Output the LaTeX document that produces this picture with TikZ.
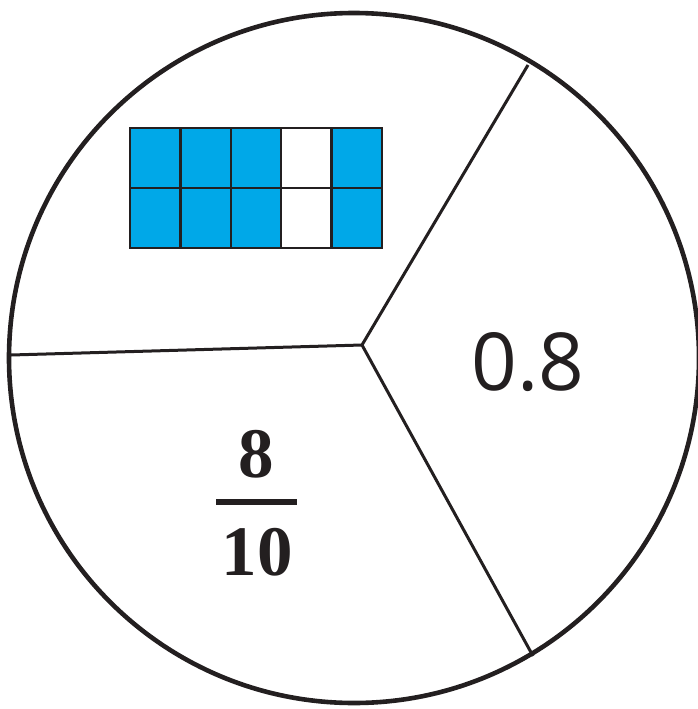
\documentclass[tikz,border=0pt]{standalone}
\usepackage{fontspec}
\newfontfamily\numsans{Open Sans}
\newfontfamily\numserif{Liberation Serif}
\definecolor{cellblue}{RGB}{0,168,232}
\definecolor{ink}{RGB}{35,31,32}
\tikzset{
  rim/.style={draw=ink, line width=4.6pt},
  divider/.style={draw=ink, line width=3pt},
  cell/.style={draw=ink, line width=2.5pt},
  numtext/.style={inner sep=0pt, anchor=base, text=ink},
}
\begin{document}
\begin{tikzpicture}[x=1pt,y=-1pt]
\useasboundingbox (0,0) rectangle (698,709);
\coordinate (c) at (354,358);
\draw[rim] (c) circle[radius=345];
\coordinate (hub) at (362,345);
\coordinate (e1) at (528,65);
\coordinate (e2) at (11,355);
\coordinate (e3) at (533,656);
\draw[divider] (hub) -- (e1);
\draw[divider] (hub) -- (e2);
\draw[divider] (hub) -- (e3);
% grid
\foreach \i in {0,...,4}{
  \foreach \j in {0,1}{
    \pgfmathsetmacro{\xa}{130+\i*50.4}
    \pgfmathsetmacro{\ya}{128+\j*60}
    \ifnum\i=3
      \draw[cell, fill=white] (\xa,\ya) rectangle ++(50.4,60);
    \else
      \draw[cell, fill=cellblue] (\xa,\ya) rectangle ++(50.4,60);
    \fi
  }
}
\node[numtext, font=\numsans\fontsize{80}{90}\selectfont] (dec) at (528,390) {0.8};
\node[numtext, font=\numserif\bfseries\fontsize{71}{80}\selectfont] (num) at (256,477) {8};
\node[numtext, font=\numserif\bfseries\fontsize{71}{80}\selectfont] (den) at (257,575) {10};
\coordinate (barL) at (216,502);
\coordinate (barR) at (297,502);
\draw[draw=ink, line width=6pt] (barL) -- (barR);
\end{tikzpicture}
\end{document}
